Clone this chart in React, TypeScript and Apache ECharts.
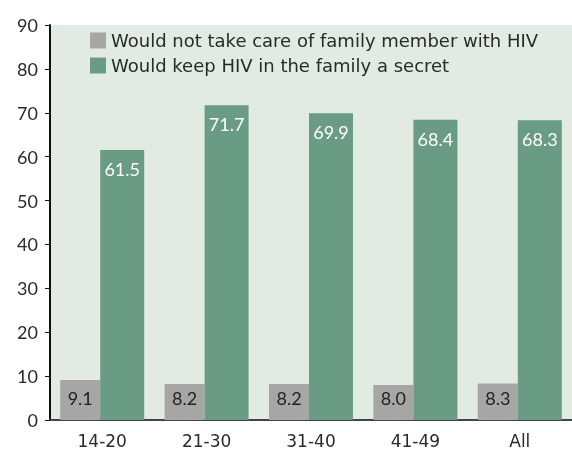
import React, { useEffect, useRef } from "react";
import * as echarts from "echarts";

const categories = ["14-20", "21-30", "31-40", "41-49", "All"];
const notTakeCare = [9.1, 8.2, 8.2, 8.0, 8.3];
const keepSecret = [61.5, 71.7, 69.9, 68.4, 68.3];
const seriesNames = [
  "Would not take care of family member with HIV",
  "Would keep HIV in the family a secret",
];

const FONT = "'DejaVu Sans', sans-serif";
const NUM_FONT = "Lato, 'DejaVu Sans', sans-serif";

export default function App() {
  const ref = useRef<HTMLDivElement>(null);

  useEffect(() => {
    if (!ref.current) return;
    const chart = echarts.init(ref.current, undefined, { renderer: "svg" });
    chart.setOption({
      animation: false,
      textStyle: { fontFamily: FONT },
      grid: { left: 50, right: 0, top: 25, bottom: 24, show: true, backgroundColor: "#e1eae3", borderWidth: 0 },
      legend: {
        orient: "vertical",
        left: 85,
        top: 26,
        itemWidth: 16,
        itemHeight: 16,
        itemGap: 6,
        icon: "rect",
        textStyle: { fontSize: 18, color: "#2a2a2a", fontFamily: FONT, lineHeight: 19 },
        data: seriesNames,
      },
      xAxis: {
        type: "category",
        data: categories,
        axisTick: { show: false },
        axisLine: { lineStyle: { color: "#444", width: 2 } },
        axisLabel: { fontSize: 17, color: "#2a2a2a", margin: 12, fontFamily: FONT },
      },
      yAxis: {
        type: "value",
        min: 0,
        max: 90,
        interval: 10,
        splitLine: { show: false },
        axisLine: { show: true, lineStyle: { color: "#111", width: 2 } },
        axisTick: { show: true, length: 5, lineStyle: { color: "#111" } },
        axisLabel: { fontSize: 18, color: "#2a2a2a", margin: 12, fontFamily: NUM_FONT },
      },
      series: [
        {
          name: seriesNames[0],
          type: "bar",
          data: notTakeCare,
          barWidth: 40,
          barGap: "0%",
          itemStyle: { color: "#a6a6a6" },
          label: {
            show: true,
            position: "insideBottom",
            distance: 13,
            fontSize: 18,
            color: "#222",
            fontFamily: NUM_FONT,
            formatter: (p: any) => p.value.toFixed(1),
          },
        },
        {
          name: seriesNames[1],
          type: "bar",
          data: keepSecret,
          barWidth: 44,
          barGap: "0%",
          itemStyle: { color: "#6a9c85" },
          label: {
            show: true,
            position: "insideTop",
            distance: 10,
            fontSize: 18,
            color: "#fff",
            fontFamily: NUM_FONT,
            formatter: (p: any) => p.value.toFixed(1),
          },
        },
      ],
    });
    return () => chart.dispose();
  }, []);

  return (
    <div
      ref={ref}
      style={{ position: "fixed", left: 0, top: 0, width: 572, height: 449 }}
    />
  );
}
